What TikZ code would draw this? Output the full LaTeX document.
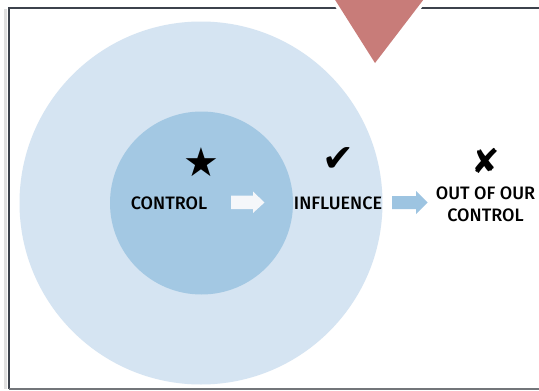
\documentclass[tikz,border=0pt]{standalone}
\usepackage{fontspec}
\newfontfamily\lblfont{Fira Sans Medium}
\newfontfamily\symfont{DejaVu Sans}
\definecolor{outerblue}{RGB}{213,228,242}
\definecolor{innerblue}{RGB}{163,200,227}
\definecolor{arrowblue}{RGB}{157,196,225}
\definecolor{arrowwhite}{RGB}{245,247,250}
\definecolor{framedark}{RGB}{60,66,76}
\definecolor{framegray}{RGB}{115,118,122}
\definecolor{tri}{RGB}{200,124,121}
\tikzset{
  lbl/.style={font=\lblfont\fontsize{18}{21.5}\selectfont, text=black, inner sep=0pt, align=center},
  sym/.style={font=\symfont\fontsize{40}{40}\selectfont, text=black, inner sep=0pt}
}
\begin{document}
\begin{tikzpicture}[x=1pt,y=-1pt]
\useasboundingbox (0,0) rectangle (539,391);
\fill[white] (0,0) rectangle (539,391);
% frame shadow
\draw[black!12, line width=3pt] (5.5,9) -- (5.5,389);
% frame
\draw[framedark, line width=2pt] (539,7.5) -- (8.5,7.5) -- (8.5,389);
\draw[framegray, line width=2pt] (8.5,389) -- (539,389);
% circles
\fill[outerblue] (201,203) circle (181.5);
\fill[innerblue] (201.5,203) circle (91.5);
% triangle
\draw[white, line width=7pt, line join=miter] (332,-5) -- (427,-5) -- (375,63) -- cycle;
\fill[tri] (332,-5) -- (427,-5) -- (375,63) -- cycle;
% arrows
\fill[arrowwhite] (231,195.5) -- (253,195.5) -- (253,191.5) -- (264.5,202.5) -- (253,213) -- (253,209) -- (231,209) -- cycle;
\fill[arrowblue] (392,196) -- (416,196) -- (416,191) -- (427.5,202.5) -- (416,214) -- (416,209) -- (392,209) -- cycle;
% symbols
\node[sym] (star) at (201,162) {★};
\node[sym, font=\symfont\fontsize{38}{38}\selectfont] (check) at (338,160) {✔};
\node[sym, font=\symfont\fontsize{34}{34}\selectfont] (cross) at (486,161) {✘};
% labels
\node[lbl] (control) at (169,203) {CONTROL};
\node[lbl] (influence) at (338,203) {INFLUENCE};
\node[lbl] (out) at (485.5,204.5) {OUT OF OUR\\CONTROL};
\end{tikzpicture}
\end{document}
